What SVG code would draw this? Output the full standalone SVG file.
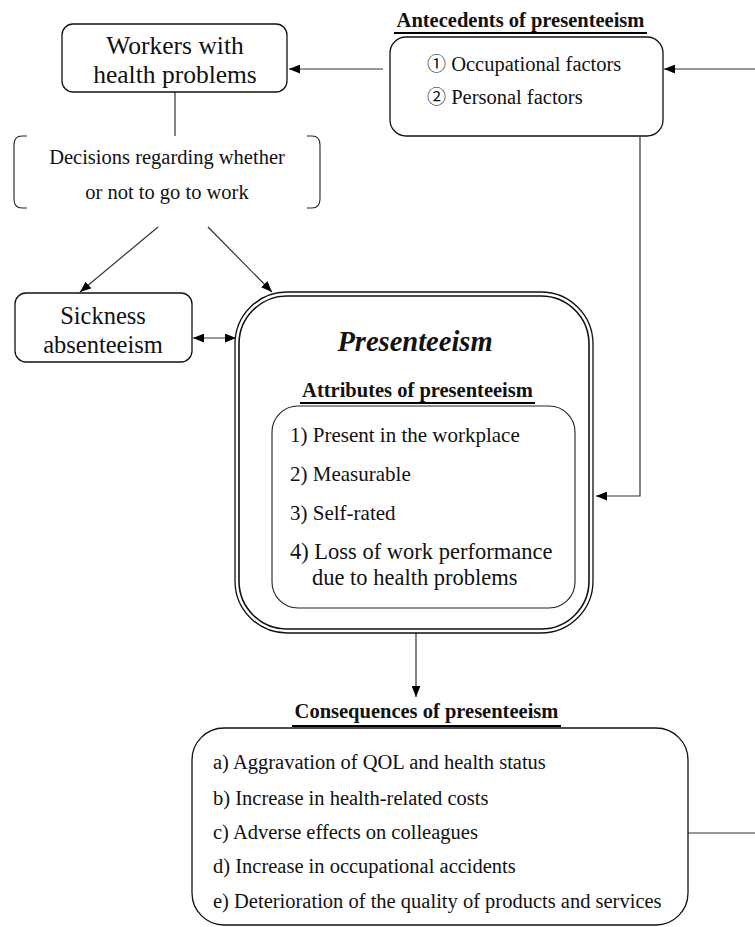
<svg xmlns="http://www.w3.org/2000/svg" width="755" height="927" viewBox="0 0 755 927">
<style>
  .box { fill: #fff; stroke: #111; stroke-width: 1.3; }
  .thin { fill: none; stroke: #222; stroke-width: 1.1; }
  .con { fill: none; stroke: #333; stroke-width: 1.2; }
  .t { font-family: "Liberation Serif", "DejaVu Serif", serif; fill: #111; }
  .cjk { font-family: "Noto Sans CJK KR", "DejaVu Sans", sans-serif; }
  .c { text-anchor: middle; }
  .b { font-weight: bold; }
  .ul { stroke: #000; stroke-width: 2.2; }
</style>
<defs>
  <marker id="ah" viewBox="0 0 10 8" refX="10" refY="4" markerWidth="11" markerHeight="9" markerUnits="userSpaceOnUse" orient="auto-start-reverse">
    <path d="M0,0 L10,4 L0,8 z" fill="#000"/>
  </marker>
</defs>
<rect width="755" height="927" fill="#fff"/>

<g id="connectors">
  <line class="con" x1="175" y1="92" x2="175" y2="136"/>
  <line class="con" x1="383" y1="69" x2="289" y2="69" marker-end="url(#ah)"/>
  <line class="con" x1="755" y1="69" x2="664" y2="69" marker-end="url(#ah)"/>
  <line class="con" x1="158" y1="227" x2="80" y2="292" marker-end="url(#ah)"/>
  <line class="con" x1="208" y1="227" x2="272" y2="292" marker-end="url(#ah)"/>
  <line class="con" x1="193" y1="338" x2="236" y2="338" marker-start="url(#ah)" marker-end="url(#ah)"/>
  <polyline class="con" points="640,137 640,496 596,496" marker-end="url(#ah)"/>
  <line class="con" x1="416" y1="633" x2="416" y2="697" marker-end="url(#ah)"/>
  <line class="con" x1="688" y1="833" x2="755" y2="833"/>
</g>

<g id="workers">
  <rect class="box" x="62" y="24" width="225" height="68" rx="11"/>
  <text class="t c" x="175" y="54" font-size="25.5">Workers with</text>
  <text class="t c" x="175" y="83" font-size="25.5">health problems</text>
</g>

<g id="decision">
  <path class="thin" d="M27,136 L22,136 Q14,136 14,145 L14,199 Q14,208 22,208 L27,208"/>
  <path class="thin" d="M307,136 L312,136 Q320,136 320,145 L320,199 Q320,208 312,208 L307,208"/>
  <text class="t c" x="167" y="164" font-size="20.5">Decisions regarding whether</text>
  <text class="t c" x="167" y="199" font-size="20.5">or not to go to work</text>
</g>

<g id="antecedents">
  <text class="t c b" x="520.5" y="27" font-size="20.5">Antecedents of presenteeism</text>
  <line class="ul" x1="394" y1="33" x2="647" y2="33"/>
  <rect class="box" x="390" y="37" width="273" height="99" rx="16"/>
  <text class="t" x="427" y="71" font-size="20.5"><tspan class="cjk" font-size="19">①</tspan> Occupational factors</text>
  <text class="t" x="427" y="104" font-size="20.5"><tspan class="cjk" font-size="19">②</tspan> Personal factors</text>
</g>

<g id="sickness">
  <rect class="box" x="15" y="293" width="177" height="69" rx="11"/>
  <text class="t c" x="103" y="324" font-size="24.5">Sickness</text>
  <text class="t c" x="103" y="353" font-size="24.5">absenteeism</text>
</g>

<g id="presenteeism">
  <rect class="box" x="235" y="292" width="358" height="341" rx="52" stroke-width="1.6"/>
  <rect fill="none" stroke="#111" stroke-width="1.6" x="239" y="296" width="350" height="333" rx="48"/>
  <text class="t c b" x="415" y="351" font-size="28.5" font-style="italic">Presenteeism</text>
  <text class="t c b" x="417.5" y="397" font-size="20.5">Attributes of presenteeism</text>
  <line class="ul" x1="300" y1="403" x2="535" y2="403"/>
  <rect fill="none" stroke="#222" stroke-width="1.1" x="272" y="406" width="303" height="202" rx="26"/>
  <text class="t" x="290" y="442" font-size="21">1) Present in the workplace</text>
  <text class="t" x="290" y="481" font-size="21">2) Measurable</text>
  <text class="t" x="290" y="520" font-size="21">3) Self-rated</text>
  <text class="t" x="290" y="559" font-size="22.5">4) Loss of work performance</text>
  <text class="t" x="312" y="585" font-size="22.5">due to health problems</text>
</g>

<g id="consequences">
  <text class="t c b" x="426.5" y="718" font-size="20.5">Consequences of presenteeism</text>
  <line class="ul" x1="292" y1="726" x2="561" y2="726"/>
  <rect class="box" x="192" y="728" width="496" height="197" rx="32"/>
  <text class="t" x="213" y="769" font-size="20.5">a) Aggravation of QOL and health status</text>
  <text class="t" x="213" y="805" font-size="20.5">b) Increase in health-related costs</text>
  <text class="t" x="213" y="839" font-size="20.5">c) Adverse effects on colleagues</text>
  <text class="t" x="213" y="873" font-size="20.5">d) Increase in occupational accidents</text>
  <text class="t" x="213" y="908" font-size="20.5">e) Deterioration of the quality of products and services</text>
</g>
</svg>
